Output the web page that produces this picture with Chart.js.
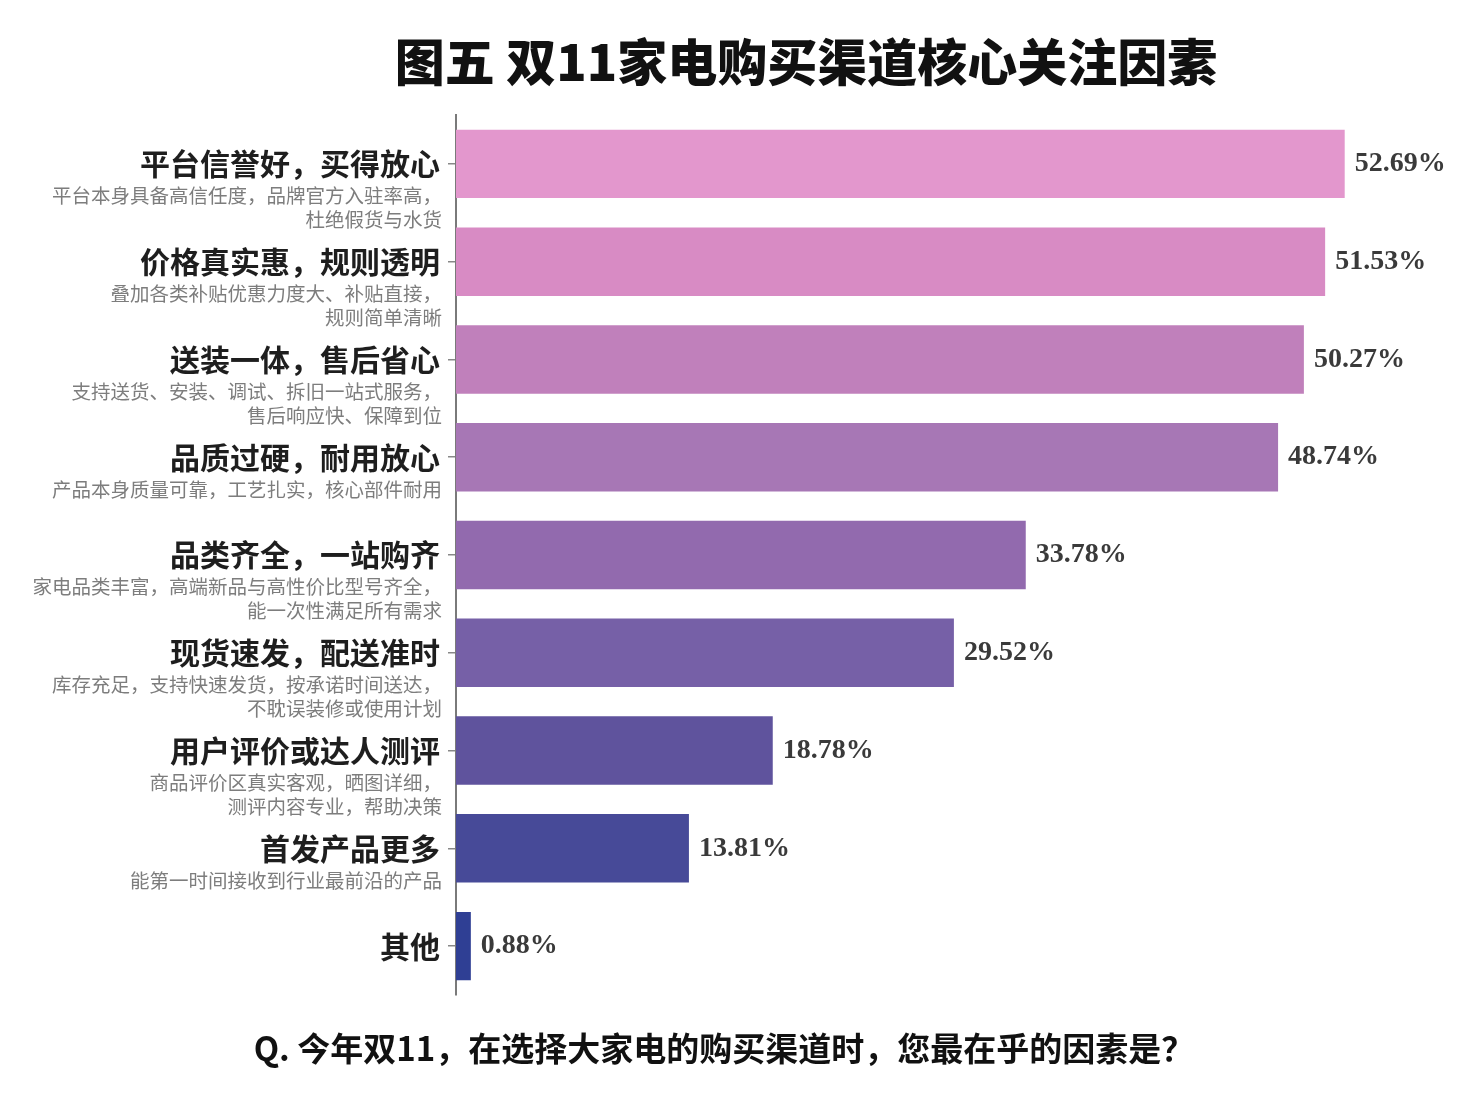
<!DOCTYPE html>
<html lang="zh">
<head>
<meta charset="utf-8">
<title>图五 双11家电购买渠道核心关注因素</title>
<script src="https://cdn.jsdelivr.net/npm/chart.js@4/dist/chart.umd.min.js"></script>
<style>
    html, body { margin: 0; padding: 0; background: #fff; }
    #wrap { position: relative; width: 1474px; height: 1098px; overflow: hidden; }
    #chart { position: absolute; left: 0; top: 0; }
    .title {
        position: absolute; top: 31px; left: 806px; transform: translateX(-50%);
        white-space: nowrap; font-family: "Noto Sans CJK SC", sans-serif;
        font-weight: 900; font-size: 50px; line-height: 56px; color: #111;
    }
    .question {
        position: absolute; top: 1027px; left: 724px; transform: translateX(-50%);
        white-space: nowrap; font-family: "Noto Sans CJK SC", sans-serif;
        font-weight: 700; font-size: 33px; line-height: 40px; color: #111;
    }
</style>
</head>
<body>
<div id="wrap">
    <canvas id="chart" width="1474" height="1098"></canvas>
    <div class="title">图五 双11家电购买渠道核心关注因素</div>
    <div class="question">Q. 今年双11，在选择大家电的购买渠道时，您最在乎的因素是？</div>
</div>
<script>
// 主标签
const categories = [
    '平台信誉好，买得放心',
    '价格真实惠，规则透明',
    '送装一体，售后省心',
    '品质过硬，耐用放心',
    '品类齐全，一站购齐',
    '现货速发，配送准时',
    '用户评价或达人测评',
    '首发产品更多',
    '其他'
];

// 说明文字（每行一项）
const descriptions = [
    ['平台本身具备高信任度，品牌官方入驻率高，', '杜绝假货与水货'],
    ['叠加各类补贴优惠力度大、补贴直接，', '规则简单清晰'],
    ['支持送货、安装、调试、拆旧一站式服务，', '售后响应快、保障到位'],
    ['产品本身质量可靠，工艺扎实，核心部件耐用'],
    ['家电品类丰富，高端新品与高性价比型号齐全，', '能一次性满足所有需求'],
    ['库存充足，支持快速发货，按承诺时间送达，', '不耽误装修或使用计划'],
    ['商品评价区真实客观，晒图详细，', '测评内容专业，帮助决策'],
    ['能第一时间接收到行业最前沿的产品'],
    []
];

// 百分比
const values = [52.69, 51.53, 50.27, 48.74, 33.78, 29.52, 18.78, 13.81, 0.88];

const barColors = [
    '#e397cd', '#d88bc4', '#c080bb', '#a777b5', '#926aae',
    '#7660a7', '#5f539d', '#474a98', '#2f3f94'
];

const CJK = '"Noto Sans CJK SC", sans-serif';

// draws the two-level labels left of the axis and the value labels
const labelPlugin = {
    id: 'labelPlugin',
    afterDraw(chart) {
        const ctx = chart.ctx;
        const yScale = chart.scales.y;
        const right = yScale.right - 16;
        ctx.save();
        ctx.textAlign = 'right';
        ctx.textBaseline = 'middle';
        categories.forEach((cat, i) => {
            const y = yScale.getPixelForValue(i);
            ctx.fillStyle = '#1e1e1e';
            ctx.font = '700 30px ' + CJK;
            ctx.fillText(cat, right, y);
            ctx.fillStyle = '#7d7d7d';
            ctx.font = '400 19.5px ' + CJK;
            descriptions[i].forEach((line, j) => {
                ctx.fillText(line, right + 2, y + 32 + j * 24);
            });
        });

        // value labels at bar ends
        const meta = chart.getDatasetMeta(0);
        ctx.textAlign = 'left';
        ctx.fillStyle = '#3a3a3a';
        ctx.font = '700 28px "Liberation Serif", "DejaVu Serif", serif';
        meta.data.forEach((bar, i) => {
            ctx.fillText(values[i].toFixed(2) + '%', bar.x + 10, bar.y);
        });
        ctx.restore();
    }
};

new Chart(document.getElementById('chart').getContext('2d'), {
    type: 'bar',
    data: {
        labels: categories,
        datasets: [{
            data: values,
            backgroundColor: barColors,
            borderWidth: 0,
            categoryPercentage: 1.0,
            barPercentage: 0.7
        }]
    },
    options: {
        indexAxis: 'y',
        responsive: false,
        animation: false,
        devicePixelRatio: 1,
        layout: {
            padding: { top: 115, bottom: 103, left: 0, right: 6 }
        },
        plugins: {
            legend: { display: false },
            tooltip: { enabled: false }
        },
        scales: {
            x: {
                display: false,
                min: 0,
                max: 60
            },
            y: {
                afterFit(scale) { scale.width = 456; },
                border: { display: true, color: '#7a7a7a', width: 2 },
                grid: {
                    offset: false,
                    drawOnChartArea: false,
                    drawTicks: true,
                    tickLength: 8,
                    color: '#888',
                    lineWidth: 1.5
                },
                ticks: {
                    callback: () => '',
                    padding: 0
                }
            }
        }
    },
    plugins: [labelPlugin]
});
</script>
</body>
</html>
